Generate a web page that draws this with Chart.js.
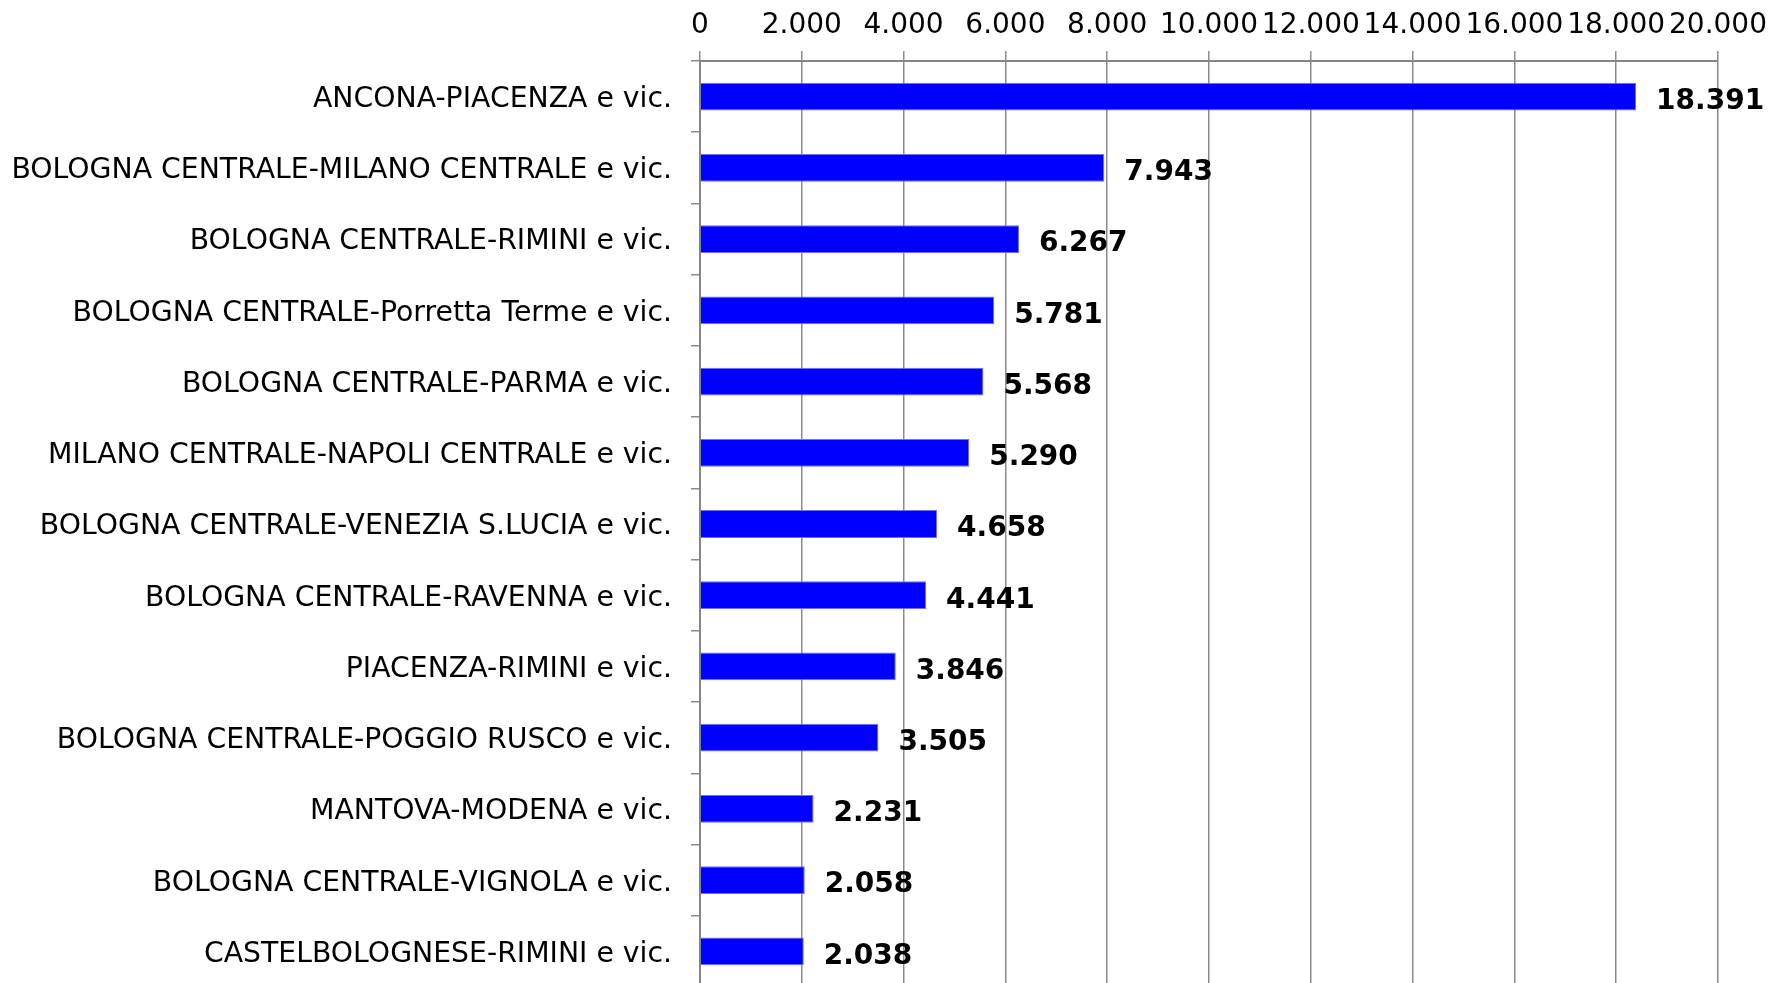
<!DOCTYPE html>
<html>
<head>
<meta charset="utf-8">
<script src="https://cdn.jsdelivr.net/npm/chart.js@4"></script>
<style>
    html, body { margin: 0; padding: 0; background: #fff; overflow: hidden; }
    #wrap { width: 1775px; height: 987px; position: relative; }
</style>
</head>
<body>
<div id="wrap"><canvas id="myChart"></canvas></div>
<script>
// routes (top to bottom) and their values
const routes = [
    'ANCONA-PIACENZA e vic.',
    'BOLOGNA CENTRALE-MILANO CENTRALE e vic.',
    'BOLOGNA CENTRALE-RIMINI e vic.',
    'BOLOGNA CENTRALE-Porretta Terme e vic.',
    'BOLOGNA CENTRALE-PARMA e vic.',
    'MILANO CENTRALE-NAPOLI CENTRALE e vic.',
    'BOLOGNA CENTRALE-VENEZIA S.LUCIA e vic.',
    'BOLOGNA CENTRALE-RAVENNA e vic.',
    'PIACENZA-RIMINI e vic.',
    'BOLOGNA CENTRALE-POGGIO RUSCO e vic.',
    'MANTOVA-MODENA e vic.',
    'BOLOGNA CENTRALE-VIGNOLA e vic.',
    'CASTELBOLOGNESE-RIMINI e vic.'
];
const values = [18391, 7943, 6267, 5781, 5568, 5290, 4658, 4441, 3846, 3505, 2231, 2058, 2038];

// x axis range
const xMin = 0;
const xMax = 20000;
const xStep = 2000;

// italian style thousands separator: 18391 -> 18.391
function fmt(n) {
    return String(n).replace(/\B(?=(\d{3})+(?!\d))/g, '.');
}

const FONT = 'DejaVu Sans';

// draws the bold value at the end of each bar
const valueLabels = {
    id: 'valueLabels',
    afterDatasetsDraw(chart) {
        const ctx = chart.ctx;
        const meta = chart.getDatasetMeta(0);
        ctx.save();
        ctx.font = 'bold 28px "' + FONT + '"';
        ctx.fillStyle = '#000';
        ctx.textAlign = 'left';
        ctx.textBaseline = 'middle';
        meta.data.forEach((bar, i) => {
            ctx.fillText(fmt(values[i]), bar.x + 20, bar.y + 5);
        });
        ctx.restore();
    }
};

const ctx = document.getElementById('myChart').getContext('2d');

const myChart = new Chart(ctx, {
    type: 'bar',
    data: {
        labels: routes,
        datasets: [{
            data: values,
            backgroundColor: '#0000ff',
            borderColor: '#6f6fff',
            borderWidth: 1,
            categoryPercentage: 1,
            barPercentage: 0.39
        }]
    },
    plugins: [valueLabels],
    options: {
        indexAxis: 'y',
        responsive: true,
        maintainAspectRatio: false,
        animation: false,
        layout: {
            padding: { left: 0, right: 57, top: 0, bottom: 0 }
        },
        plugins: {
            legend: { display: false },
            tooltip: { enabled: false }
        },
        scales: {
            x: {
                position: 'top',
                min: xMin,
                max: xMax,
                afterBuildTicks: (scale) => {
                    const t = [];
                    for (let v = xMin; v <= xMax; v += xStep) t.push({ value: v });
                    scale.ticks = t;
                },
                afterFit: (scale) => {
                    scale.height = 61;
                    scale.paddingLeft = 0;
                    scale.paddingRight = 0;
                },
                border: { color: '#868686', width: 2 },
                grid: {
                    color: '#8c8c8c',
                    lineWidth: 1.5,
                    tickLength: 10,
                    drawTicks: true
                },
                ticks: {
                    autoSkip: false,
                    maxRotation: 0,
                    padding: 8,
                    color: '#000',
                    font: { family: FONT, size: 28 },
                    callback: (v) => fmt(v)
                }
            },
            y: {
                afterFit: (scale) => {
                    scale.width = 700;
                    scale.paddingTop = 0;
                    scale.paddingBottom = 0;
                },
                border: { color: '#868686', width: 2 },
                grid: {
                    offset: true,
                    drawOnChartArea: false,
                    color: '#8c8c8c',
                    lineWidth: 1.5,
                    tickLength: 9
                },
                ticks: {
                    padding: 19,
                    labelOffset: 3,
                    color: '#000',
                    font: { family: FONT, size: 28.3 }
                }
            }
        }
    }
});
</script>
</body>
</html>
